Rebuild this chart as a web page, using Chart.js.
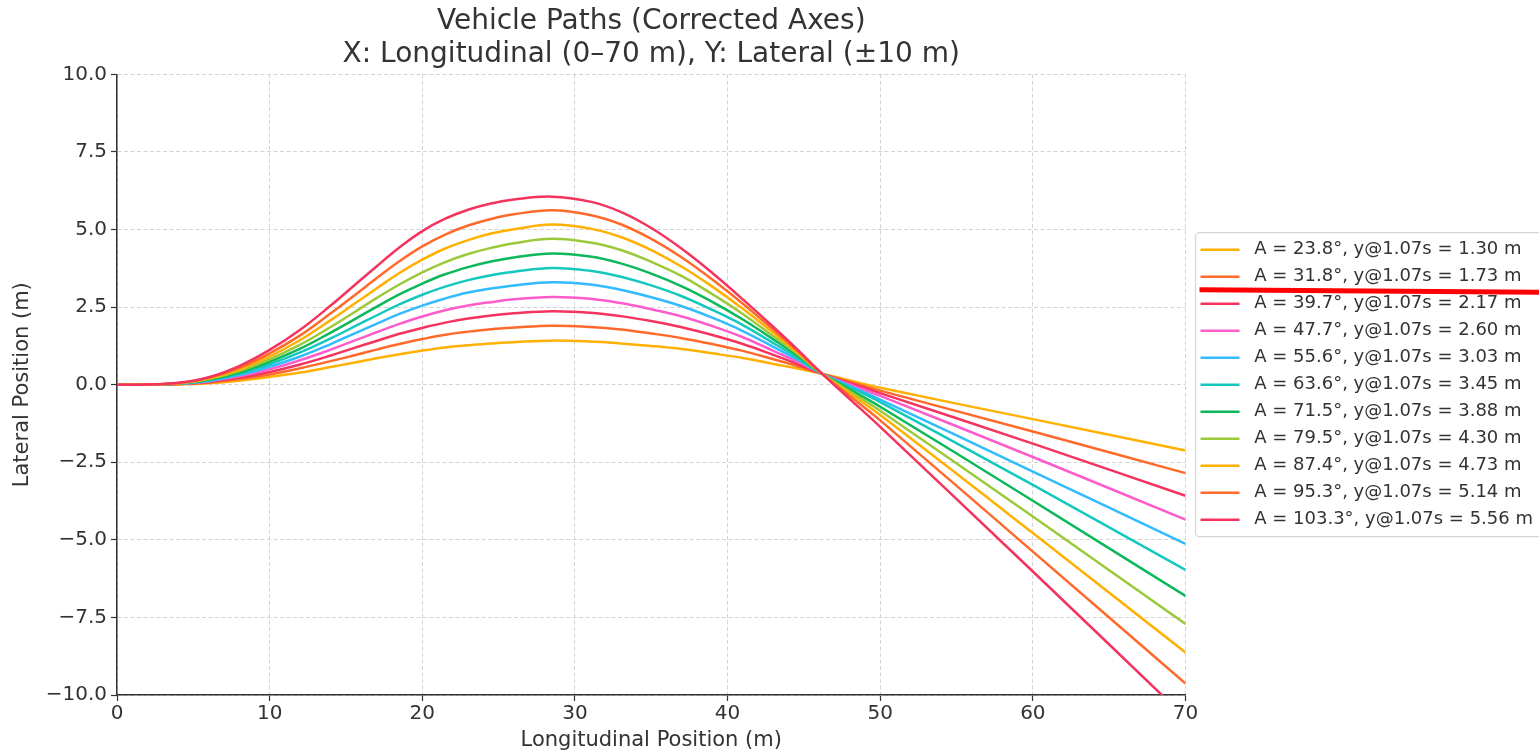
<!DOCTYPE html>
<html>
<head>
<meta charset="utf-8">
<title>Vehicle Paths</title>
<script src="https://cdn.jsdelivr.net/npm/chart.js@4.4.0/dist/chart.umd.min.js"></script>
<style>
    html, body { margin: 0; padding: 0; background: #fff; }
    #wrap { width: 1539px; height: 751px; }
</style>
</head>
<body>
<div id="wrap"><canvas id="pathChart" width="1539" height="751"></canvas></div>
<script>
// values
var xPositions = [0, 2, 4, 6, 8, 10, 12, 14, 15.5, 17, 18.5, 20, 21.5, 23, 24.5, 26, 28.5, 31, 33, 35, 37, 39, 41, 43, 44.5, 46.2, 48, 50, 60, 70];

var pathA238 = [0, 0, 0.01, 0.05, 0.13, 0.25, 0.39, 0.57, 0.71, 0.85, 0.98, 1.10, 1.20, 1.27, 1.33, 1.37, 1.42, 1.39, 1.33, 1.25, 1.15, 1.01, 0.86, 0.67, 0.53, 0.35, 0.14, -0.10, -1.11, -2.12];
var pathA318 = [0, 0, 0.02, 0.07, 0.18, 0.33, 0.53, 0.76, 0.94, 1.13, 1.31, 1.47, 1.61, 1.71, 1.79, 1.84, 1.90, 1.86, 1.78, 1.65, 1.50, 1.31, 1.09, 0.82, 0.61, 0.35, 0.09, -0.19, -1.51, -2.85];
var pathA397 = [0, 0, 0.02, 0.09, 0.22, 0.41, 0.65, 0.94, 1.18, 1.41, 1.64, 1.83, 2.00, 2.13, 2.23, 2.30, 2.37, 2.32, 2.21, 2.05, 1.85, 1.60, 1.31, 0.96, 0.68, 0.35, 0.06, -0.27, -1.90, -3.58];
var pathA477 = [0, 0, 0.03, 0.11, 0.27, 0.50, 0.79, 1.13, 1.41, 1.69, 1.96, 2.20, 2.40, 2.55, 2.66, 2.75, 2.83, 2.77, 2.63, 2.43, 2.20, 1.89, 1.53, 1.09, 0.76, 0.35, 0.01, -0.36, -2.33, -4.35];
var pathA556 = [0, 0, 0.03, 0.12, 0.31, 0.58, 0.91, 1.31, 1.64, 1.96, 2.28, 2.55, 2.78, 2.97, 3.10, 3.20, 3.30, 3.23, 3.06, 2.82, 2.53, 2.16, 1.73, 1.22, 0.83, 0.35, -0.04, -0.48, -2.80, -5.13];
var pathA636 = [0, 0, 0.04, 0.14, 0.35, 0.66, 1.04, 1.49, 1.86, 2.23, 2.59, 2.90, 3.16, 3.37, 3.53, 3.64, 3.76, 3.67, 3.48, 3.20, 2.85, 2.41, 1.92, 1.34, 0.89, 0.35, -0.08, -0.56, -3.23, -5.97];
var pathA715 = [0, 0.01, 0.04, 0.16, 0.39, 0.74, 1.16, 1.68, 2.09, 2.51, 2.91, 3.26, 3.56, 3.79, 3.97, 4.10, 4.23, 4.13, 3.91, 3.58, 3.17, 2.67, 2.10, 1.46, 0.96, 0.35, -0.15, -0.71, -3.74, -6.81];
var pathA795 = [0, 0.01, 0.04, 0.18, 0.44, 0.82, 1.29, 1.86, 2.32, 2.79, 3.23, 3.62, 3.95, 4.21, 4.41, 4.56, 4.70, 4.58, 4.34, 3.96, 3.50, 2.92, 2.28, 1.56, 1.02, 0.35, -0.21, -0.84, -4.25, -7.71];
var pathA874 = [0, 0.01, 0.05, 0.20, 0.49, 0.91, 1.44, 2.08, 2.59, 3.10, 3.60, 4.03, 4.39, 4.66, 4.87, 5.01, 5.16, 5.03, 4.76, 4.34, 3.80, 3.16, 2.45, 1.67, 1.07, 0.35, -0.28, -0.98, -4.78, -8.63];
var pathA953 = [0, 0.01, 0.05, 0.22, 0.54, 1.01, 1.59, 2.30, 2.86, 3.43, 3.98, 4.46, 4.84, 5.13, 5.34, 5.49, 5.62, 5.47, 5.17, 4.70, 4.10, 3.39, 2.61, 1.77, 1.12, 0.35, -0.36, -1.15, -5.38, -9.63];
var pathA1033 = [0, 0.01, 0.06, 0.24, 0.60, 1.12, 1.77, 2.55, 3.18, 3.81, 4.42, 4.95, 5.35, 5.64, 5.84, 5.97, 6.06, 5.90, 5.57, 5.05, 4.38, 3.60, 2.75, 1.86, 1.17, 0.35, -0.46, -1.36, -6.02, -10.73];

var angles = [23.8, 31.8, 39.7, 47.7, 55.6, 63.6, 71.5, 79.5, 87.4, 95.3, 103.3];
var yAt107 = [1.30, 1.73, 2.17, 2.60, 3.03, 3.45, 3.88, 4.30, 4.73, 5.14, 5.56];

var xTicks = [0, 10, 20, 30, 40, 50, 60, 70];
var yTicks = [-10, -7.5, -5, -2.5, 0, 2.5, 5, 7.5, 10];

var paths = [pathA238, pathA318, pathA397, pathA477, pathA556, pathA636, pathA715, pathA795, pathA874, pathA953, pathA1033];
var colors = ['#ffb000', '#ff6a2b', '#f5335f', '#ff5ccb', '#33bbff', '#14c8be', '#0bb85a', '#9cc93a', '#ffb000', '#ff6a2b', '#f5335f'];

Chart.defaults.font.family = "'DejaVu Sans', sans-serif";
Chart.defaults.color = '#333';

function minusSign(v, digits) {
    var s = Math.abs(v).toFixed(digits);
    return v < 0 ? '\u2212' + s : s;
}

var datasets = [];
for (var i = 0; i < paths.length; i++) {
    var pts = [];
    for (var j = 0; j < xPositions.length; j++) {
        pts.push({ x: xPositions[j], y: paths[i][j] });
    }
    datasets.push({
        // leading space keeps the text clear of the legend line like the original
        label: ' A = ' + angles[i].toFixed(1) + '\u00b0, y@1.07s = ' + yAt107[i].toFixed(2) + ' m',
        data: pts,
        borderColor: colors[i],
        backgroundColor: colors[i],
        borderWidth: 2.5,
        pointRadius: 0,
        fill: false,
        tension: 0.4,
        order: paths.length - i
    });
}

// legend sits a bit further from the axes than Chart.js puts it
var legendNudge = {
    id: 'legendNudge',
    afterLayout: function (chart) {
        chart.legend.left += 6;
        chart.legend.right += 6;
    }
};

// legend frame behind the items
var legendFrame = {
    id: 'legendFrame',
    beforeDraw: function (chart) {
        var hb = chart.legend.legendHitBoxes;
        if (!hb || !hb.length) return;
        var ctx = chart.ctx;
        var x = hb[0].left - 5;
        var y = hb[0].top - 8;
        var last = hb[hb.length - 1];
        var h = last.top + last.height + 8 - y;
        ctx.save();
        ctx.fillStyle = '#ffffff';
        ctx.strokeStyle = '#d6d6d6';
        ctx.lineWidth = 1.2;
        ctx.beginPath();
        ctx.roundRect(x, y, chart.width + 20 - x, h, 4);
        ctx.fill();
        ctx.stroke();
        ctx.restore();
    }
};

// red marker stroke under the second legend entry
var redMark = {
    id: 'redMark',
    afterDraw: function (chart) {
        var hb = chart.legend.legendHitBoxes;
        if (!hb || hb.length < 2) return;
        var ctx = chart.ctx;
        var yMid = hb[1].top + hb[1].height / 2 + 13;
        ctx.save();
        ctx.strokeStyle = '#ff0000';
        ctx.lineWidth = 5;
        ctx.beginPath();
        ctx.moveTo(hb[0].left - 1, yMid);
        ctx.lineTo(chart.width, yMid + 2.5);
        ctx.stroke();
        ctx.restore();
    }
};

var ctx = document.getElementById('pathChart').getContext('2d');
var pathChart = new Chart(ctx, {
    type: 'line',
    data: { datasets: datasets },
    plugins: [legendNudge, legendFrame, redMark],
    options: {
        responsive: false,
        animation: false,
        layout: { padding: { left: 12, right: 2, top: 0, bottom: 0 } },
        plugins: {
            tooltip: { enabled: false },
            title: {
                display: true,
                fullSize: false,
                text: ['Vehicle Paths (Corrected Axes)', 'X: Longitudinal (0\u201370 m), Y: Lateral (\u00b110 m)'],
                color: '#333',
                font: { size: 28, weight: 'normal', lineHeight: 1.15 },
                padding: { top: 6, bottom: 4 }
            },
            legend: {
                position: 'right',
                fullSize: false,
                align: 'center',
                labels: {
                    usePointStyle: true,
                    pointStyle: 'line',
                    pointStyleWidth: 39,
                    padding: 9,
                    color: '#333',
                    font: { size: 18 },
                    sort: function (a, b) { return a.datasetIndex - b.datasetIndex; }
                }
            }
        },
        scales: {
            x: {
                type: 'linear',
                min: 0,
                max: 70,
                afterBuildTicks: function (scale) {
                    scale.ticks = xTicks.map(function (v) { return { value: v }; });
                },
                afterFit: function (scale) { scale.height = 56; },
                ticks: {
                    color: '#333',
                    padding: 3,
                    font: { size: 20, lineHeight: 1.0 },
                    maxRotation: 0,
                    callback: function (v) { return minusSign(v, 0); }
                },
                grid: {
                    color: '#d3d3d3',
                    lineWidth: 1,
                    drawTicks: true,
                    tickLength: 6,
                    tickColor: '#333',
                    tickWidth: 1.2,
                    tickBorderDash: []
                },
                border: { display: true, color: '#333', width: 1.5, dash: [4, 2.5] },
                title: {
                    display: true,
                    text: 'Longitudinal Position (m)',
                    color: '#333',
                    font: { size: 21, lineHeight: 1.0 },
                    padding: { top: 5, bottom: 0 }
                }
            },
            y: {
                type: 'linear',
                min: -10,
                max: 10,
                afterBuildTicks: function (scale) {
                    scale.ticks = yTicks.map(function (v) { return { value: v }; });
                },
                afterFit: function (scale) { scale.width = 105; },
                ticks: {
                    color: '#333',
                    padding: 4,
                    font: { size: 20, lineHeight: 1.0 },
                    callback: function (v) { return minusSign(v, 1); }
                },
                grid: {
                    color: '#d3d3d3',
                    lineWidth: 1,
                    drawTicks: true,
                    tickLength: 6,
                    tickColor: '#333',
                    tickWidth: 1.2,
                    tickBorderDash: []
                },
                border: { display: true, color: '#333', width: 1.5, dash: [4, 2.5] },
                title: {
                    display: true,
                    text: 'Lateral Position (m)',
                    color: '#333',
                    font: { size: 21, lineHeight: 1.0 },
                    padding: { top: 0, bottom: 10 }
                }
            }
        }
    }
});
</script>
</body>
</html>
